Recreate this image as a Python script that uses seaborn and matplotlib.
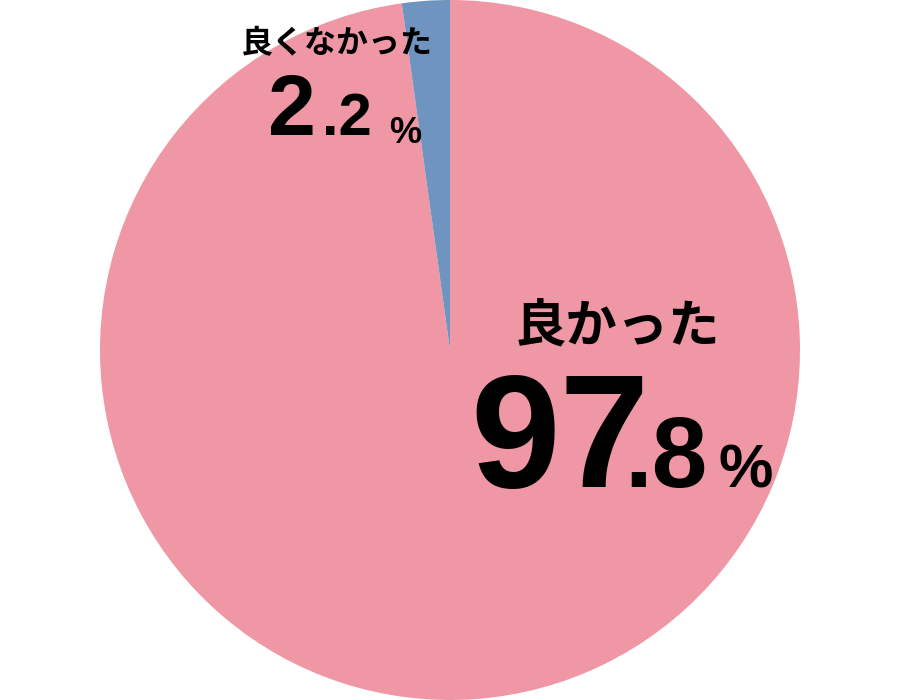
import matplotlib.pyplot as plt
import seaborn as sns

# answers and their share (%)
labels = ['良かった', '良くなかった']
values = [97.8, 2.2]
colors = ['#ef97a5', '#7094c0']

sns.set_theme(style='white')
plt.rcParams['font.family'] = ['Noto Sans CJK JP', 'DejaVu Sans']

fig = plt.figure(figsize=(9, 7), dpi=100)
ax = fig.add_axes([0, 0, 1, 1])

ax.pie(values, colors=sns.color_palette(colors), startangle=90, counterclock=False,
       radius=350, center=(450, 350), wedgeprops=dict(linewidth=0))
ax.set_xlim(0, 900)
ax.set_ylim(0, 700)
ax.set_aspect('equal')
ax.axis('off')

num_font = 'Liberation Sans'


def put_value(v, xs, y, sizes, pct_y):
    # xs: left edges of integer part, decimal part and percent sign
    whole, frac = f'{v:.1f}'.split('.')
    parts = [whole, '.' + frac, '%']
    ys = [y, y, pct_y]
    for p, x, yy, fs in zip(parts, xs, ys, sizes):
        ax.text(x, 700 - yy, p, fontsize=fs, fontweight='bold', family=num_font,
                ha='left', va='baseline', color='black')


# big label
ax.text(617, 700 - 327, labels[0], fontsize=37, fontweight='bold',
        ha='center', va='center', color='black')
put_value(values[0], (470, 624, 719), 487, (116, 72, 44), 487)

# small label
ax.text(337, 700 - 44, labels[1], fontsize=23, fontweight='bold',
        ha='center', va='center', color='black')
put_value(values[1], (268, 322, 389), 135, (62, 43, 26), 143)

fig.savefig('out.png', dpi=100)
